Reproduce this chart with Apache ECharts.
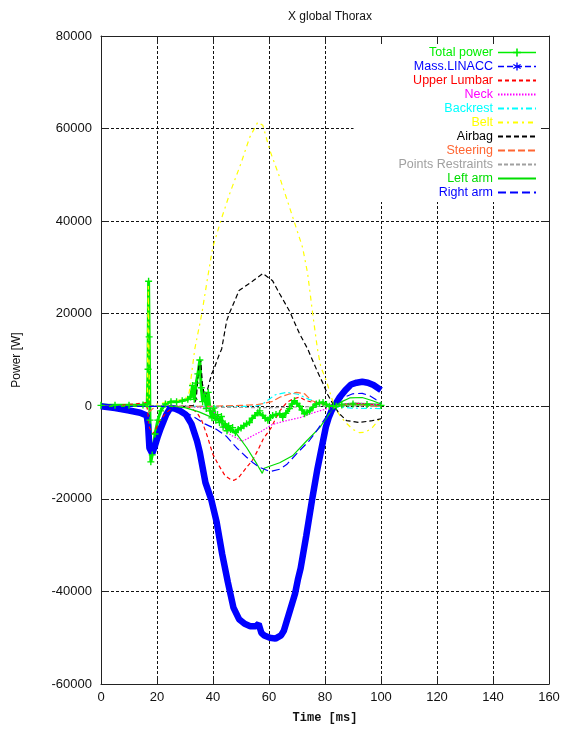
<!DOCTYPE html>
<html><head><meta charset="utf-8">
<script src="https://cdn.jsdelivr.net/npm/echarts@6/dist/echarts.min.js"></script>
<style>html,body{margin:0;padding:0;background:#fff}#c{width:565px;height:731px}</style>
</head><body><div id="c"></div>
<script>
// ---- data: [time ms, power W] ----
const totalPower = [[0,200],[5,200],[10,200],[15,300],[16.5,500],[16.8,8000],[17.0,27000],[17.2,15000],[17.5,-3000],[17.8,-12000],[18.3,-10500],[19.3,-6000],[20.3,-3000],[21.3,-1000],[23,500],[25,1000],[27,1000],[29,1200],[31,1500],[32,2000],[32.7,4500],[33.3,1500],[34,5000],[34.6,7000],[35.3,10000],[35.8,4000],[36.3,1000],[37,2500],[37.6,-500],[38.3,3000],[39,-1000],[39.6,-2500],[40.3,-400],[41,-3000],[41.6,-1800],[42.3,-3500],[43,-2200],[43.6,-4500],[44.3,-3800],[45,-5300],[45.6,-4200],[46.3,-5000],[47,-4600],[48,-5700],[49,-5000],[50,-4700],[51,-4200],[52,-3800],[53,-3500],[54,-2600],[55,-2000],[56,-1400],[56.7,-1000],[57.8,-2000],[58.7,-2600],[59.6,-3000],[60.5,-2400],[61.3,-2000],[62.5,-1800],[63.8,-1600],[64.9,-2400],[66,-1500],[67.3,-500],[68.2,500],[69.1,1200],[70,600],[70.9,0],[71.8,-800],[72.7,-1600],[73.6,-1300],[74.5,-1000],[75.7,-200],[76.9,500],[78,700],[79.3,800],[80.5,400],[81.6,0],[83,100],[84,0],[86,300],[90,500],[95,400],[100,200]];
const massLinacc = [[0,0],[5,-400],[10,-900],[14,-1400],[16.3,-2000],[16.8,-4000],[17.3,-9000],[18.3,-10200],[19.3,-8500],[20.3,-6500],[21.3,-4800],[23.3,-1800],[24.8,-300],[26.3,-500],[28.3,-1000],[30.3,-1800],[32.3,-3800],[34.3,-7500],[35.3,-10000],[37.3,-16500],[39.3,-20000],[41.3,-25000],[43.3,-32000],[45.3,-38000],[47.3,-43500],[49.3,-46000],[51.3,-47000],[53.3,-47500],[55.3,-47500],[56.3,-47000],[57.3,-49000],[58.3,-49500],[60.3,-50000],[62.3,-50200],[64.3,-49500],[65.3,-48500],[66.3,-46500],[67.3,-44500],[68.3,-42500],[69.3,-40500],[70.3,-37500],[71.3,-35000],[73.3,-28000],[75.3,-20500],[77.3,-13500],[79.3,-7500],[80.3,-4500],[81.3,-2500],[82.3,-1000],[83.3,0],[85.3,2000],[87.3,3500],[89.3,4700],[91.3,5100],[93.3,5300],[95.3,5100],[97.3,4600],[100,3500]];
const upperLumbar = [[0,0],[5,0],[10,400],[15,700],[16.3,800],[16.8,-2000],[17.3,-4600],[18.5,-6000],[19.5,-5000],[21,-3100],[23.3,-1400],[25.7,-200],[28,0],[30,0],[32,-300],[34.3,-1400],[36,-3100],[38.1,-6700],[39.9,-10300],[41.7,-12400],[44.3,-15000],[46.5,-15900],[47.5,-16000],[49,-15500],[50.6,-14300],[52.5,-12800],[54,-11800],[56,-9500],[58,-7000],[60.8,-4600],[62.5,-2500],[64,-900],[66.3,800],[68.3,1500],[70.9,2000],[73.3,1200],[76,800],[78.3,600],[81,300],[84,0],[88,500],[92,600],[96,400],[100,300]];
const neck = [[0,0],[20,0],[30,0],[34.3,-200],[37.3,-500],[39.9,-900],[41.3,-2000],[42.3,-3000],[44.3,-5000],[46.3,-6200],[48.8,-7000],[50.3,-7600],[52.3,-7000],[54.3,-6300],[57.3,-5400],[61.3,-3900],[66.3,-3100],[71.3,-2400],[75.3,-1500],[80.3,-600],[83.3,0],[87.3,500],[91.3,700],[95.3,500],[100,300]];
const backrest = [[0,0],[20,0],[40,0],[55,0],[57.3,300],[59.3,1200],[62.3,2500],[66.3,3000],[70.3,2600],[74.3,1500],[78.3,600],[83.3,0],[89.3,-400],[100,-500]];
const belt = [[0,0],[10,0],[16.5,0],[16.9,26000],[17.3,0],[18,300],[20,500],[25,1000],[30,1500],[31.5,3000],[33.5,12400],[36,20000],[38,27500],[39.9,34300],[43,40500],[46,46000],[50,52500],[53.1,58100],[56,61400],[57.8,60700],[60.3,55300],[63.8,49500],[68.3,41200],[72,34300],[73.8,28700],[75.6,20000],[77.3,12400],[78.5,8500],[80.5,5500],[83.3,0],[85.5,-2200],[87.7,-3700],[90,-5000],[92.3,-5700],[94.5,-5600],[96.9,-4600],[100,-2400]];
const airbag = [[0,0],[30,0],[33,200],[34,1500],[35,9000],[35.6,10000],[36.2,5000],[37,2000],[38,3500],[39.5,7000],[40.5,8300],[42.3,11300],[43.1,12400],[44.9,18500],[46,20300],[49.3,25000],[54.3,27100],[57.8,28700],[61.3,27100],[63.8,24300],[67.3,20600],[70.9,15700],[73.8,12400],[75.5,10000],[77.3,7500],[79.3,4900],[81,2500],[82.8,500],[85,-1500],[87.7,-3100],[92.3,-3500],[96.9,-3100],[100,-2700]];
const steering = [[0,0],[16,0],[17.3,-1200],[18.5,-500],[20,0],[30,0],[40,0],[50,200],[55,300],[58,600],[61,1000],[64,2000],[67,2600],[69.8,3000],[72.7,2700],[75.3,1200],[78,700],[80,300],[83.3,0],[88,400],[92,300],[96,100],[100,-200]];
const pointsRestraints = [[0,0],[20,0],[40,-200],[60,-300],[80,0],[90,100],[100,0]];
const leftArm = [[0,0],[20,0],[25,0],[30,-300],[35,-1200],[40,-2500],[43.5,-3000],[46,-4500],[48.5,-6000],[52,-8900],[55.6,-12400],[57.6,-14500],[58.3,-13400],[60,-13000],[63.8,-12200],[68.4,-10700],[73.4,-7500],[78.1,-4600],[80.5,-2500],[83.3,0],[86,1000],[88.8,1800],[93.3,1900],[97,1200],[100,500]];
const rightArm = [[0,0],[20,0],[25,-100],[28,-500],[33.5,-2400],[37.1,-3800],[41.3,-5000],[44.8,-6500],[48.5,-9000],[52,-11000],[54.3,-12200],[56.7,-13200],[60.3,-14100],[63.8,-13600],[66.3,-12600],[70.9,-9600],[74.3,-7500],[77,-5300],[80.5,-2200],[83.3,0],[86.3,1800],[89.9,2700],[93.3,2800],[95.9,2300],[98,1500],[100,600]];

const seriesNames = ['Total power','Mass.LINACC','Upper Lumbar','Neck','Backrest','Belt','Airbag','Steering','Points Restraints','Left arm','Right arm'];
const xRange = [0, 160, 20];
const yRange = [-60000, 80000, 20000];

const PLUS = 'path://M4,0H6V4H10V6H6V10H4V6H0V4H4Z';
const STAR = 'path://M4.2,0H5.8V3.6L9,1.8L9.8,3.2L6.6,5L9.8,6.8L9,8.2L5.8,6.4V10H4.2V6.4L1,8.2L0.2,6.8L3.4,5L0.2,3.2L1,1.8L4.2,3.6Z';

const styles = [
  {data: totalPower, color:'#00ee00', type:'solid', width:3, symbol:PLUS, symbolSize:7, show:true, legendLine:{width:1.5, type:'solid'}},
  {data: massLinacc, color:'#0000ff', type:'solid', width:6.5, symbol:STAR, symbolSize:7, show:false, legendLine:{width:1.5, type:[6,3]}},
  {data: upperLumbar, color:'#ff0000', type:[4,3], width:1.2},
  {data: neck, color:'#ff00ff', type:[1.5,1.5], width:1.2},
  {data: backrest, color:'#00ffff', type:[6,3,2,3], width:1.2},
  {data: belt, color:'#ffff00', type:[5,4,2,4], width:1.2},
  {data: airbag, color:'#000000', type:[5,3], width:1.2},
  {data: steering, color:'#ff6633', type:[7,3], width:1.2},
  {data: pointsRestraints, color:'#a0a0a0', type:[4,2], width:1.2},
  {data: leftArm, color:'#00dd00', type:'solid', width:1.2},
  {data: rightArm, color:'#0000ff', type:[8,4], width:1.2}
];

const FONT = 'Liberation Sans';
const chart = echarts.init(document.getElementById('c'), null, {renderer:'canvas'});
const series = styles.map((s, i) => ({
  name: seriesNames[i], type:'line', data: s.data,
  symbol: s.symbol || 'none', symbolSize: s.symbolSize || 4, showSymbol: !!s.show,
  lineStyle:{color:s.color, type:s.type, width:s.width},
  itemStyle:{color:s.color},
  animation:false, silent:true
}));

chart.setOption({
  animation:false,
  backgroundColor:'#fff',
  title:{text:'X global Thorax', left:325, textAlign:'center', top:6,
    textStyle:{fontFamily:FONT, fontSize:12, fontWeight:'normal', color:'#111'}},
  grid:{left:101, right:16, top:36, bottom:47},
  legend:{
    orient:'vertical', right:18, top:37, align:'right',
    itemWidth:38, itemHeight:10, itemGap:1,
    padding:[9,10,3,45], backgroundColor:'#fff',
    selectedMode:false,
    textStyle:{fontFamily:FONT, fontSize:12.5, lineHeight:12},
    data: seriesNames.map((n, i) => {
      const s = styles[i];
      const item = {name:n, textStyle:{color:s.color}};
      if (s.legendLine) item.lineStyle = s.legendLine;
      if (!s.symbol) item.itemStyle = {opacity:0};
      return item;
    })
  },
  xAxis:[{
    type:'value', min:xRange[0], max:xRange[1], interval:xRange[2], position:'bottom',
    name:'Time [ms]', nameLocation:'middle', nameGap:28,
    nameTextStyle:{fontFamily:'Liberation Mono', fontWeight:'bold', fontSize:12, color:'#111'},
    axisLine:{onZero:false, lineStyle:{color:'#222', width:1}},
    axisTick:{inside:true, length:8, lineStyle:{color:'#222'}},
    axisLabel:{margin:7, fontFamily:FONT, fontSize:13, color:'#111', formatter: v => String(v)},
    splitLine:{show:true, lineStyle:{color:'#111', type:[3,2], width:1}}
  },{
    type:'value', min:xRange[0], max:xRange[1], interval:xRange[2], position:'top', z:10,
    axisLine:{onZero:false, lineStyle:{color:'#222', width:1}},
    axisTick:{inside:true, length:8, lineStyle:{color:'#222'}},
    axisLabel:{show:false}, splitLine:{show:false}
  }],
  yAxis:[{
    type:'value', min:yRange[0], max:yRange[1], interval:yRange[2], position:'left',
    name:'Power [W]', nameLocation:'middle', nameGap:78,
    nameTextStyle:{fontFamily:FONT, fontSize:12, color:'#111'},
    axisLine:{show:true, onZero:false, lineStyle:{color:'#222', width:1}},
    axisTick:{show:true, inside:true, length:8, lineStyle:{color:'#222'}},
    axisLabel:{margin:9, fontFamily:FONT, fontSize:13, color:'#111', formatter: v => String(v)},
    splitLine:{show:true, lineStyle:{color:'#111', type:[3,2], width:1}}
  },{
    type:'value', min:yRange[0], max:yRange[1], interval:yRange[2], position:'right', z:10,
    axisLine:{show:true, onZero:false, lineStyle:{color:'#222', width:1}},
    axisTick:{show:true, inside:true, length:8, lineStyle:{color:'#222'}},
    axisLabel:{show:false}, splitLine:{show:false}
  }],
  series: series
});
</script>
</body></html>
